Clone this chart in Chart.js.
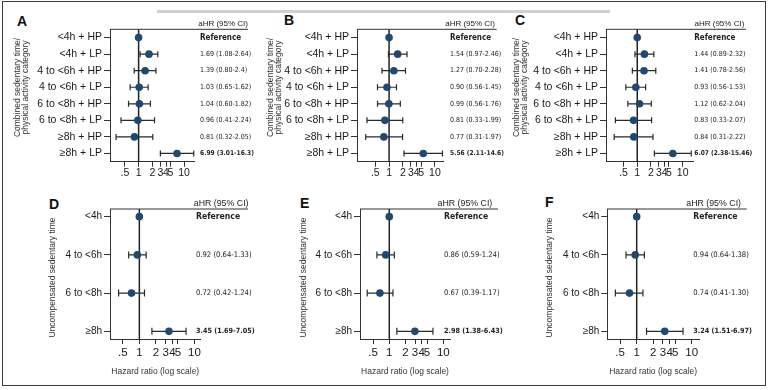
<!DOCTYPE html>
<html>
<head>
<meta charset="utf-8">
<script src="https://cdn.jsdelivr.net/npm/chart.js@4.4.1/dist/chart.umd.min.js"></script>
<style>
  body { margin: 0; width: 768px; height: 390px; position: relative; background: #fff; overflow: hidden; font-family: "Liberation Sans", Arial, sans-serif; }
  canvas { position: absolute; }
  .frame { position: absolute; left: 2px; top: 1px; width: 762px; height: 383px; border: 1px solid #3a3a3a; }
  .mark { position: absolute; left: 157px; top: 10px; width: 453px; height: 3px; background: #d0d0d0; }
  .letter { position: absolute; font-weight: bold; font-size: 14px; line-height: 14px; color: #111; }
</style>
</head>
<body>
<div class="frame"></div>
<div class="mark"></div>
<div class="letter" style="left:17px;top:14px">A</div>
<div class="letter" style="left:284px;top:13px">B</div>
<div class="letter" style="left:515px;top:13px">C</div>
<div class="letter" style="left:49px;top:197px">D</div>
<div class="letter" style="left:300px;top:196px">E</div>
<div class="letter" style="left:545px;top:195px">F</div>
<canvas id="pA"></canvas>
<canvas id="pB"></canvas>
<canvas id="pC"></canvas>
<canvas id="pD"></canvas>
<canvas id="pE"></canvas>
<canvas id="pF"></canvas>
<script>
// categories
const comboCats = ['<4h + HP', '<4h + LP', '4 to <6h + HP', '4 to <6h + LP', '6 to <8h + HP', '6 to <8h + LP', '≥8h + HP', '≥8h + LP'];
const uncompCats = ['<4h', '4 to <6h', '6 to <8h', '≥8h'];
const hrTicks = [0.5, 1, 2, 3, 4, 5, 10];

// A
const hrA = [1, 1.69, 1.39, 1.03, 1.04, 0.96, 0.81, 6.99];
const loA = [null, 1.08, 0.80, 0.65, 0.60, 0.41, 0.32, 3.01];
const hiA = [null, 2.64, 2.4, 1.62, 1.82, 2.24, 2.05, 16.3];
const txtA = ['Reference', '1.69 (1.08-2.64)', '1.39 (0.80-2.4)', '1.03 (0.65-1.62)', '1.04 (0.60-1.82)', '0.96 (0.41-2.24)', '0.81 (0.32-2.05)', '6.99 (3.01-16.3)'];
// B
const hrB = [1, 1.54, 1.27, 0.90, 0.99, 0.81, 0.77, 5.56];
const loB = [null, 0.97, 0.70, 0.56, 0.56, 0.33, 0.31, 2.11];
const hiB = [null, 2.46, 2.28, 1.45, 1.76, 1.99, 1.97, 14.6];
const txtB = ['Reference', '1.54 (0.97-2.46)', '1.27 (0.70-2.28)', '0.90 (0.56-1.45)', '0.99 (0.56-1.76)', '0.81 (0.33-1.99)', '0.77 (0.31-1.97)', '5.56 (2.11-14.6)'];
// C
const hrC = [1, 1.44, 1.41, 0.93, 1.12, 0.83, 0.84, 6.07];
const loC = [null, 0.89, 0.78, 0.56, 0.62, 0.33, 0.31, 2.38];
const hiC = [null, 2.32, 2.56, 1.53, 2.04, 2.07, 2.22, 15.46];
const txtC = ['Reference', '1.44 (0.89-2.32)', '1.41 (0.78-2.56)', '0.93 (0.56-1.53)', '1.12 (0.62-2.04)', '0.83 (0.33-2.07)', '0.84 (0.31-2.22)', '6.07 (2.38-15.46)'];
// D
const hrD = [1, 0.92, 0.72, 3.45];
const loD = [null, 0.64, 0.42, 1.69];
const hiD = [null, 1.33, 1.24, 7.05];
const txtD = ['Reference', '0.92 (0.64-1.33)', '0.72 (0.42-1.24)', '3.45 (1.69-7.05)'];
// E
const hrE = [1, 0.86, 0.67, 2.98];
const loE = [null, 0.59, 0.39, 1.38];
const hiE = [null, 1.24, 1.17, 6.43];
const txtE = ['Reference', '0.86 (0.59-1.24)', '0.67 (0.39-1.17)', '2.98 (1.38-6.43)'];
// F
const hrF = [1, 0.94, 0.74, 3.24];
const loF = [null, 0.64, 0.41, 1.51];
const hiF = [null, 1.38, 1.30, 6.97];
const txtF = ['Reference', '0.94 (0.64-1.38)', '0.74 (0.41-1.30)', '3.24 (1.51-6.97)'];

const SANS = '"Liberation Sans", Arial, sans-serif';
const NARROW = '"Liberation Sans Narrow", "DejaVu Sans Condensed", sans-serif';
const comboTitle = ['Combined sedentary time/', 'physical activity category'];
const uncompTitle = ['Uncompensated sedentary time'];

function forest(id, o, cats, hr, lo, hi, txt) {
  const [bx, by, bw, bh] = o.box;
  const [al, at, ar, ab] = o.area;
  const cv = document.getElementById(id);
  cv.width = bw;
  cv.height = bh;
  cv.style.left = bx + 'px';
  cv.style.top = by + 'px';

  const overlay = {
    id: 'forestOverlay',
    beforeDatasetsDraw(chart) {
      const { ctx, chartArea: a, scales: { x, y } } = chart;
      ctx.save();
      // line of no effect
      const x1 = x.getPixelForValue(1);
      ctx.strokeStyle = '#222';
      ctx.lineWidth = 1.5;
      ctx.beginPath();
      ctx.moveTo(x1, a.top);
      ctx.lineTo(x1, a.bottom);
      ctx.stroke();
      // confidence intervals
      ctx.strokeStyle = '#2a2a2a';
      ctx.lineWidth = 1.2;
      lo.forEach((l, i) => {
        if (l == null) return;
        const yy = y.getPixelForValue(i + 1);
        const xl = x.getPixelForValue(l);
        const xr = x.getPixelForValue(hi[i]);
        ctx.beginPath();
        ctx.moveTo(xl, yy); ctx.lineTo(xr, yy);
        ctx.moveTo(xl, yy - o.cap); ctx.lineTo(xl, yy + o.cap);
        ctx.moveTo(xr, yy - o.cap); ctx.lineTo(xr, yy + o.cap);
        ctx.stroke();
      });
      ctx.restore();
    },
    afterDraw(chart) {
      const { ctx, chartArea: a, scales: { y } } = chart;
      ctx.save();
      // top rule and header
      ctx.strokeStyle = '#333';
      ctx.lineWidth = 1;
      ctx.beginPath();
      ctx.moveTo(a.left, a.top);
      ctx.lineTo(o.lineR - bx, a.top);
      ctx.stroke();
      ctx.fillStyle = '#222';
      ctx.textBaseline = 'middle';
      ctx.textAlign = 'right';
      ctx.font = o.hdSize + 'px ' + SANS;
      ctx.fillText('aHR (95% CI)', o.headX - bx, o.headY - by);
      // estimates column
      ctx.textAlign = 'left';
      txt.forEach((t, i) => {
        const last = i === txt.length - 1;
        const size = i === 0 ? o.txtSize + 1 : (last ? o.txtSize - 0.4 : o.txtSize);
        ctx.font = (i === 0 || last ? 'bold ' : '') + size + 'px ' + NARROW;
        ctx.fillText(t, o.textX - bx, y.getPixelForValue(i + 1));
      });
      // y axis title
      ctx.fillStyle = '#333';
      ctx.textAlign = 'center';
      ctx.font = '8.5px ' + SANS;
      o.ytitle.forEach((t, i) => {
        ctx.save();
        ctx.translate(o.ytX[i] - bx, o.ytY - by);
        ctx.rotate(-Math.PI / 2);
        ctx.fillText(t, 0, 0);
        ctx.restore();
      });
      ctx.restore();
    }
  };

  new Chart(cv, {
    type: 'scatter',
    data: {
      datasets: [{
        data: hr.map((v, i) => ({ x: v, y: i + 1 })),
        pointRadius: o.r,
        pointHoverRadius: o.r,
        pointBackgroundColor: '#24476f',
        pointBorderWidth: 0
      }]
    },
    options: {
      responsive: false,
      animation: false,
      events: [],
      layout: { padding: { left: 0, top: at - by, right: bx + bw - ar, bottom: by + bh - ab - o.xh } },
      plugins: { legend: { display: false }, tooltip: { enabled: false } },
      scales: {
        x: {
          type: 'logarithmic',
          min: o.xMin,
          max: o.xMax,
          afterBuildTicks: s => { s.ticks = hrTicks.map(v => ({ value: v })); },
          afterFit: s => { s.height = o.xh; },
          ticks: {
            autoSkip: false, maxRotation: 0, padding: o.tickPad, color: '#1a1a1a',
            font: { family: SANS, size: o.tickSize },
            callback: v => (v < 1 ? '.5' : String(v))
          },
          grid: { drawOnChartArea: false, drawTicks: true, tickLength: 5, color: '#333' },
          border: { display: true, color: '#333', width: 1 },
          title: {
            display: !!o.xtitle, text: o.xtitle || '', color: '#333',
            font: { family: SANS, size: 8.5 }, padding: { top: 0, bottom: 2 }
          }
        },
        y: {
          type: 'linear',
          reverse: true,
          min: o.yMin,
          max: o.yMax,
          afterBuildTicks: s => { s.ticks = cats.map((c, i) => ({ value: i + 1 })); },
          afterFit: s => { s.width = al - bx; },
          ticks: {
            autoSkip: false, padding: 2, color: '#1a1a1a',
            font: { family: SANS, size: o.catSize },
            callback: v => cats[v - 1]
          },
          grid: { drawOnChartArea: false, drawTicks: true, tickLength: 6, color: '#333' },
          border: { display: true, color: '#333', width: 1 }
        }
      }
    },
    plugins: [overlay]
  });
}

const top3 = { yMin: 0.5, yMax: 8.5, xh: 20, tickSize: 10.5, tickPad: 0, catSize: 10.5, hdSize: 8, headY: 23.3, txtSize: 7, cap: 3, r: 3.8, ytitle: comboTitle, ytY: 87.5, xtitle: null };
const bot3 = { yMin: 0.8, yMax: 4.2, xh: 40, tickSize: 11.5, tickPad: 2, catSize: 10, hdSize: 8.8, headY: 203.3, txtSize: 7.6, cap: 3.5, r: 3.8, ytitle: uncompTitle, ytY: 277.5, xtitle: 'Hazard ratio (log scale)' };

forest('pA', { ...top3, box: [0, 0, 268, 190], area: [110, 29.3, 194, 161.7], xMin: 0.235, xMax: 16.5, textX: 200, headX: 248, lineR: 248, ytX: [18, 26] }, comboCats, hrA, loA, hiA, txtA);
forest('pB', { ...top3, box: [250, 0, 268, 190], area: [357, 29.3, 443.3, 161.7], xMin: 0.2, xMax: 15.2, textX: 450, headX: 495, lineR: 496.7, ytX: [270.7, 279] }, comboCats, hrB, loB, hiB, txtB);
forest('pC', { ...top3, box: [500, 0, 266, 190], area: [606, 29.3, 693, 161.7], xMin: 0.205, xMax: 16.9, textX: 694.3, headX: 744.3, lineR: 746, ytX: [516.7, 525] }, comboCats, hrC, loC, hiC, txtC);
forest('pD', { ...bot3, box: [0, 190, 268, 195], area: [110, 209, 200.5, 339], xMin: 0.293, xMax: 12.9, textX: 196, headX: 248.5, lineR: 248, ytX: [53] }, uncompCats, hrD, loD, hiD, txtD);
forest('pE', { ...bot3, box: [250, 190, 268, 195], area: [360, 209, 450, 339], xMin: 0.287, xMax: 13.3, textX: 444, headX: 492.3, lineR: 498, ytX: [303.3] }, uncompCats, hrE, loE, hiE, txtE);
forest('pF', { ...bot3, box: [500, 190, 266, 195], area: [607.3, 209, 699, 339], xMin: 0.292, xMax: 13.6, textX: 693.3, headX: 741, lineR: 746.7, ytX: [550] }, uncompCats, hrF, loF, hiF, txtF);
</script>
</body>
</html>
